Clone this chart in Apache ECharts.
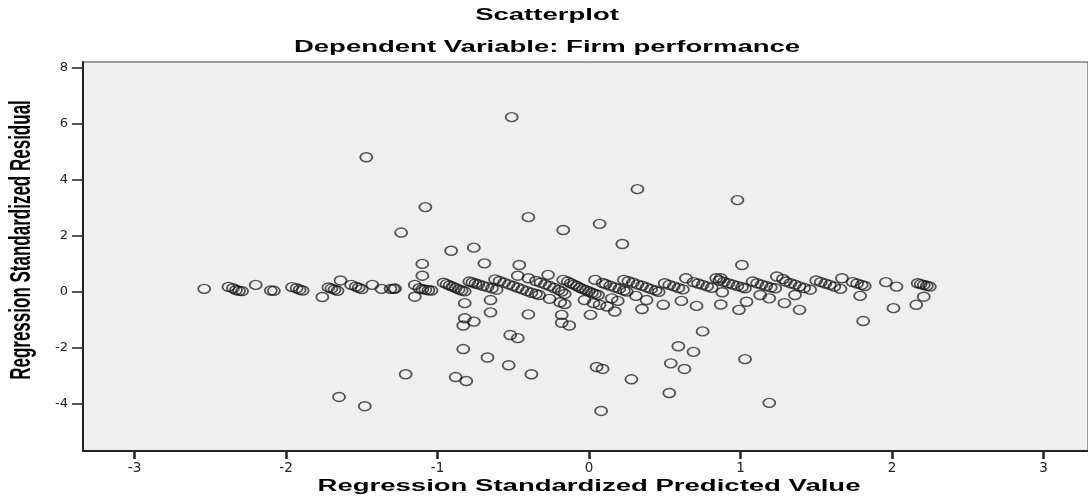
<!DOCTYPE html>
<html>
<head>
<meta charset="utf-8">
<script src="https://cdn.jsdelivr.net/npm/echarts@6/dist/echarts.min.js"></script>
<style>
html,body{margin:0;padding:0;background:#fff;}
#chart{width:1088px;height:501px;}
</style>
</head>
<body>
<div id="chart"></div>
<script>
// Titles and tick labels
const titleLine1 = 'Scatterplot';
const titleLine2 = 'Dependent Variable: Firm performance';
const xAxisTitle = 'Regression Standardized Predicted Value';
const yAxisTitle = 'Regression Standardized Residual';
const xTicks = [-3, -2, -1, 0, 1, 2, 3];
const yTicks = [-4, -2, 0, 2, 4, 6, 8];

// [predicted, residual] pairs
const bandPoints = [
[-2.54,0.10],[-2.38,0.17],[-2.35,0.12],[-2.33,0.06],[-2.31,0.03],[-2.29,0.02],[-2.20,0.24],[-2.10,0.04],[-2.08,0.03],
[-1.96,0.16],[-1.93,0.12],[-1.91,0.07],[-1.89,0.04],[-1.76,-0.19],[-1.72,0.15],[-1.70,0.11],[-1.68,0.07],[-1.66,0.03],[-1.64,0.40],
[-1.57,0.24],[-1.54,0.18],[-1.52,0.14],[-1.50,0.09],[-1.43,0.24],[-1.37,0.10],[-1.31,0.10],[-1.29,0.10],[-1.28,0.11],
[-1.15,0.24],[-1.15,-0.18],[-1.12,0.12],[-1.10,0.09],[-1.08,0.07],[-1.06,0.05],[-1.04,0.04],
[-0.96,0.32],[-0.94,0.27],[-0.92,0.22],[-0.90,0.18],[-0.88,0.13],[-0.86,0.08],[-0.84,0.04],[-0.82,0.01],
[-0.79,0.36],[-0.77,0.33],[-0.75,0.29],[-0.73,0.26],[-0.70,0.21],[-0.67,0.16],[-0.64,0.12],[-0.61,0.07],
[-0.62,0.44],[-0.59,0.38],[-0.56,0.32],[-0.53,0.26],[-0.50,0.20],[-0.47,0.14],[-0.44,0.08],[-0.41,0.02],[-0.38,-0.04],[-0.35,-0.08],[-0.33,-0.12],
[-0.35,0.38],[-0.32,0.32],[-0.29,0.26],[-0.26,0.20],[-0.23,0.13],[-0.20,0.06],[-0.18,0.00],[-0.16,-0.08],
[-0.14,0.36],[-0.12,0.30],[-0.10,0.25],[-0.08,0.20],[-0.06,0.14],[-0.04,0.09],[-0.02,0.05],[0.00,0.01],[0.02,-0.04],[0.04,-0.08],[0.06,-0.12],
[0.09,0.31],[0.11,0.27],[0.14,0.21],[0.17,0.15],[0.20,0.10],[0.23,0.04],[0.25,0.00],
[0.23,0.42],[0.26,0.37],[0.29,0.32],[0.32,0.26],[0.35,0.21],[0.38,0.15],[0.41,0.09],[0.44,0.04],[0.46,-0.01],
[0.50,0.30],[0.53,0.24],[0.56,0.19],[0.59,0.13],[0.62,0.08],[0.64,0.48],
[0.69,0.34],[0.72,0.29],[0.75,0.24],[0.78,0.19],[0.81,0.14],[0.84,0.48],
[0.86,0.40],[0.89,0.35],[0.92,0.30],[0.95,0.25],[0.98,0.20],[1.01,0.16],[1.03,0.12],[0.87,0.48],[0.88,-0.02],
[1.08,0.36],[1.11,0.30],[1.14,0.25],[1.17,0.20],[1.20,0.15],[1.23,0.12],[1.24,0.54],[1.28,0.45],
[1.30,0.36],[1.33,0.30],[1.36,0.25],[1.39,0.19],[1.42,0.13],[1.46,0.07],
[1.50,0.40],[1.53,0.34],[1.56,0.29],[1.59,0.24],[1.62,0.18],[1.67,0.48],[1.66,0.10],
[1.74,0.34],[1.77,0.29],[1.80,0.24],[1.82,0.20],[1.96,0.34],[2.03,0.18],
[2.17,0.30],[2.19,0.27],[2.21,0.24],[2.23,0.21],[2.25,0.18]
];

const nearScatter = [
[-1.10,0.99],[-1.10,0.57],[-0.91,1.46],[-0.76,1.57],[-0.69,1.01],[-0.46,0.95],[-0.47,0.57],[-0.40,0.48],[-0.27,0.60],[-0.17,0.42],[0.04,0.42],[0.22,1.70],[1.01,0.95],
[-0.82,-0.41],[-0.65,-0.30],[-0.65,-0.74],[-0.82,-0.95],[-0.76,-1.07],[-0.83,-1.21],[-0.40,-0.81],[-0.52,-1.55],[-0.47,-1.66],
[-0.26,-0.26],[-0.19,-0.38],[-0.16,-0.44],[-0.18,-0.83],[-0.18,-1.11],[-0.13,-1.21],[-0.03,-0.30],[0.01,-0.83],
[0.03,-0.41],[0.07,-0.47],[0.12,-0.53],[0.17,-0.71],[0.15,-0.24],[0.19,-0.33],[0.31,-0.15],[0.38,-0.30],[0.35,-0.62],
[0.49,-0.47],[0.61,-0.33],[0.71,-0.51],[0.87,-0.46],[0.99,-0.65],[1.04,-0.36],[1.13,-0.12],[1.19,-0.24],[1.29,-0.41],
[1.36,-0.12],[1.39,-0.65],[1.79,-0.15],[1.81,-1.05],[2.01,-0.59],[2.21,-0.18],[2.16,-0.47],[0.75,-1.42],[0.59,-1.95]
];

const farOutliers = [
[-1.47,4.80],[-0.51,6.23],[-1.08,3.02],[-1.24,2.11],[-0.40,2.66],[-0.17,2.20],[0.07,2.42],[0.32,3.66],[0.98,3.27],
[-1.21,-2.95],[-1.65,-3.76],[-1.48,-4.09],[-0.83,-2.05],[-0.67,-2.35],[-0.88,-3.05],[-0.81,-3.19],[-0.53,-2.63],[-0.38,-2.95],
[0.05,-2.69],[0.09,-2.76],[0.08,-4.26],[0.28,-3.13],[0.53,-3.62],[0.54,-2.56],[0.63,-2.76],[0.69,-2.15],[1.03,-2.41],[1.19,-3.97]
];

const allPoints = bandPoints.concat(nearScatter, farOutliers);

const chart = echarts.init(document.getElementById('chart'), null, {renderer: 'canvas'});
const TITLE_FONT = '"Liberation Sans", Arial, sans-serif';
const STRETCH = 1.72;

chart.setOption({
  animation: false,
  backgroundColor: '#ffffff',
  grid: {
    left: 83, right: 0, top: 62, bottom: 50,
    show: true, backgroundColor: '#efefef', borderColor: '#444', borderWidth: 1,
    containLabel: false
  },
  xAxis: {
    type: 'value', min: -3.34, max: 3.294,
    axisLine: {show: true, onZero: false, lineStyle: {color: '#222', width: 2}},
    axisTick: {show: true, length: 8, customValues: xTicks, lineStyle: {color: '#222', width: 2.5}},
    axisLabel: {show: true, customValues: xTicks, margin: 10, color: '#222', fontFamily: '"DejaVu Sans", sans-serif', fontSize: 13.5},
    splitLine: {show: false}
  },
  yAxis: {
    type: 'value', min: -5.69, max: 8.2,
    axisLine: {show: true, onZero: false, lineStyle: {color: '#222', width: 2}},
    axisTick: {show: true, length: 11, customValues: yTicks, lineStyle: {color: '#222', width: 1.5}},
    axisLabel: {show: true, customValues: yTicks, margin: 15, color: '#222', fontFamily: '"DejaVu Sans", sans-serif', fontSize: 13},
    splitLine: {show: false}
  },
  graphic: [
    {type: 'text', x: 547, y: 16, scaleX: STRETCH, silent: true,
     style: {text: titleLine1, font: 'bold 16px ' + TITLE_FONT, fill: '#000', align: 'center', verticalAlign: 'middle', textAlign: 'center', textVerticalAlign: 'middle'}},
    {type: 'text', x: 547, y: 48, scaleX: STRETCH, silent: true,
     style: {text: titleLine2, font: 'bold 16px ' + TITLE_FONT, fill: '#000', align: 'center', verticalAlign: 'middle', textAlign: 'center', textVerticalAlign: 'middle'}},
    {type: 'text', x: 589, y: 487, scaleX: STRETCH, silent: true,
     style: {text: xAxisTitle, font: 'bold 16px ' + TITLE_FONT, fill: '#000', align: 'center', verticalAlign: 'middle', textAlign: 'center', textVerticalAlign: 'middle'}},
    {type: 'text', x: 22, y: 240, rotation: Math.PI / 2, scaleY: STRETCH, silent: true,
     style: {text: yAxisTitle, font: 'bold 17px ' + TITLE_FONT, fill: '#000', align: 'center', verticalAlign: 'middle', textAlign: 'center', textVerticalAlign: 'middle'}}
  ],
  series: [{
    type: 'scatter',
    data: allPoints,
    symbol: 'path://M0,5 A5,5 0 1,0 10,5 A5,5 0 1,0 0,5 Z',
    symbolSize: [12, 9],
    itemStyle: {color: 'transparent', borderColor: 'rgba(20,20,20,0.9)', borderWidth: 1.6},
    emphasis: {disabled: true}
  }]
});
</script>
</body>
</html>
